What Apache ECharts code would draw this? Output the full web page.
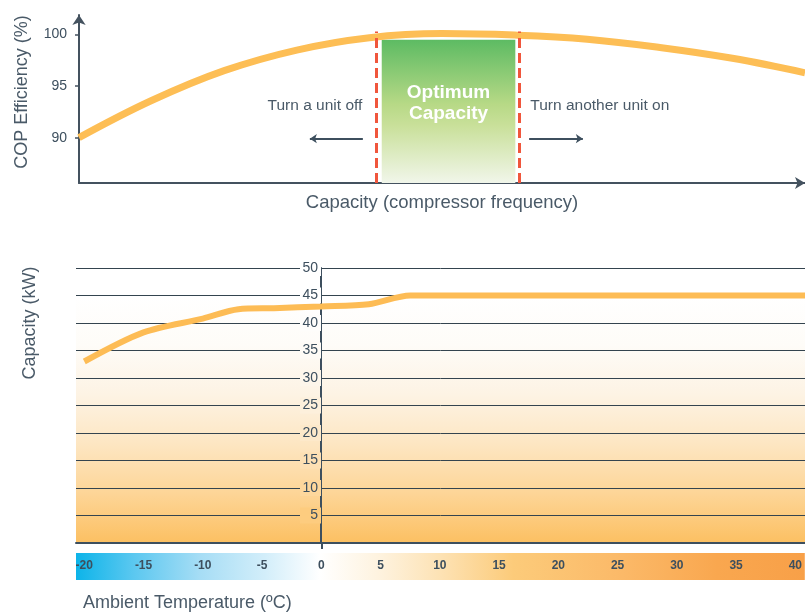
<!DOCTYPE html>
<html>
<head>
<meta charset="utf-8">
<title>COP Efficiency / Capacity</title>
<script src="https://cdn.jsdelivr.net/npm/echarts@6/dist/echarts.min.js"></script>
<style>
  html, body { margin: 0; padding: 0; background: #fff; }
  #main { width: 805px; height: 612px; }
</style>
</head>
<body>
<div id="main"></div>
<script>
// top chart: COP efficiency vs capacity (0-100 % of compressor frequency)
var copCapacity   = [0, 10, 20, 30, 40, 50, 60, 70, 80, 90, 100];
var copEfficiency = [90, 93.6, 96.5, 98.5, 99.7, 100.1, 99.95, 99.55, 98.75, 97.7, 96.3];
var copTicks = [90, 95, 100];
var switchPoints = [41, 60.7];      // dashed red lines
var optimumRange = [41.7, 60.1];    // green box
var optimumTop = 99.5;

// bottom chart: capacity (kW) vs ambient temperature
var ambientTemp = [-20, -15, -10, -7, -4, 0, 4, 7.5, 15, 25, 35, 40.8];
var capacityKW  = [33, 38.3, 40.8, 42.5, 42.7, 43, 43.4, 45, 45, 45, 45, 45];
var kwTicks   = [5, 10, 15, 20, 25, 30, 35, 40, 45, 50];
var tempTicks = [-20, -15, -10, -5, 0, 5, 10, 15, 20, 25, 30, 35, 40];
var tempMin = -20.7, tempMax = 40.8;

var ink = '#3d4f5e';
var nameInk = '#4a5a68';
var font = '"Liberation Sans", Arial, sans-serif';

// background of the lower chart (value -> colour)
var bgStops = [[0, '#FCC062'], [9, '#FDD597'], [18, '#FDE6C2'], [27, '#FDF3E4'], [36, '#FEFCF8'], [45, '#FFFFFF']];
function hex(c) { return [1, 3, 5].map(function (i) { return parseInt(c.substr(i, 2), 16); }); }
function bgAt(v) {
  if (v >= 45) return '#FFFFFF';
  for (var i = 0; i < bgStops.length - 1; i++) {
    var a = bgStops[i], b = bgStops[i + 1];
    if (v >= a[0] && v <= b[0]) {
      var t = (v - a[0]) / (b[0] - a[0]);
      var ca = hex(a[1]), cb = hex(b[1]);
      return 'rgb(' + ca.map(function (x, k) { return Math.round(x + (cb[k] - x) * t); }).join(',') + ')';
    }
  }
  return bgStops[0][1];
}
var kwRich = {};
kwTicks.forEach(function (v) {
  kwRich['k' + v] = { backgroundColor: bgAt(v), width: 17, align: 'right', padding: [1, 3, 1, 1], fontSize: 14, color: ink, fontFamily: font };
});

var myChart = echarts.init(document.getElementById('main'));

myChart.setOption({
  animation: false,
  textStyle: { fontFamily: font },
  title: {
    text: 'Ambient Temperature (ºC)',
    left: 78, top: 589,
    textStyle: { fontSize: 18, fontWeight: 'normal', color: nameInk, fontFamily: font }
  },
  graphic: [{
    type: 'text', x: 30, y: 323, rotation: Math.PI / 2,
    style: { text: 'Capacity (kW)', fontSize: 18, fill: nameInk, align: 'center', verticalAlign: 'middle', fontFamily: font }
  }],
  grid: [
    { left: 79, right: 0, top: 15, height: 168 },
    { left: 76, right: 0, top: 268, height: 275 },
    { left: 76, right: 0, top: 553, height: 27 }
  ],
  xAxis: [
    {
      gridIndex: 0, type: 'value', min: 0, max: 100,
      axisLine: { lineStyle: { color: '#44525f', width: 2 }, symbol: ['none', 'arrow'], symbolSize: [9, 10] },
      axisTick: { show: false }, axisLabel: { show: false }, splitLine: { show: false },
      name: 'Capacity (compressor frequency)', nameLocation: 'middle', nameGap: 10,
      nameTextStyle: { fontSize: 18.5, color: nameInk }
    },
    {
      gridIndex: 1, type: 'value', min: tempMin, max: tempMax, z: 2,
      axisLine: { onZero: false, lineStyle: { color: ink, width: 2 } },
      axisTick: { customValues: [0], length: 6, lineStyle: { color: ink, width: 2 } },
      axisLabel: { show: false }, splitLine: { show: false }
    },
    {
      gridIndex: 2, type: 'value', min: tempMin, max: tempMax, z: 10,
      axisLine: { show: false }, axisTick: { show: false }, splitLine: { show: false },
      axisLabel: { customValues: tempTicks, margin: -20, fontSize: 12, fontWeight: 'bold', color: ink }
    }
  ],
  yAxis: [
    {
      gridIndex: 0, type: 'value', min: 85.6, max: 101.9,
      axisLine: { lineStyle: { color: '#44525f', width: 2 }, symbol: ['none', 'arrow'], symbolSize: [10, 10] },
      axisTick: { customValues: copTicks, length: 4, lineStyle: { color: '#44525f', width: 1.5 } },
      axisLabel: { customValues: copTicks, fontSize: 14, color: ink, margin: 12 },
      splitLine: { show: false },
      name: 'COP Efficiency (%)', nameLocation: 'middle', nameGap: 48, nameRotate: 90,
      nameTextStyle: { fontSize: 18, color: nameInk, padding: [0, 0, 0, 14] }
    },
    {
      // y axis sits at 0 °C: shifted right from the grid's left edge
      gridIndex: 1, type: 'value', min: 0, max: 50, interval: 5, z: 2,
      position: 'left', offset: -245,
      axisLine: { onZero: false, lineStyle: { color: ink, width: 2 } },
      axisTick: { show: false },
      axisLabel: {
        showMinLabel: false, margin: 0,
        formatter: function (v) { return '{k' + v + '|' + v + '}'; },
        rich: kwRich
      },
      splitLine: { lineStyle: { color: '#34444f', width: 1 } }
    },
    { gridIndex: 2, type: 'value', min: 0, max: 1, show: false }
  ],
  series: [
    {
      type: 'line', xAxisIndex: 0, yAxisIndex: 0, z: 3,
      data: copCapacity.map(function (c, i) { return [c, copEfficiency[i]]; }),
      smooth: 0.4, symbol: 'none',
      lineStyle: { color: '#FDBE55', width: 7 },
      markArea: {
        silent: true,
        itemStyle: {
          color: {
            type: 'linear', x: 0, y: 0, x2: 0, y2: 1,
            colorStops: [
              { offset: 0, color: '#5DBB63' },
              { offset: 0.45, color: '#B7D986' },
              { offset: 0.6, color: '#C9E09A' },
              { offset: 1, color: '#F1F6EA' }
            ]
          }
        },
        label: {
          show: true, position: 'inside', offset: [0, -8],
          color: '#fff', fontSize: 19, fontWeight: 'bold', lineHeight: 21
        },
        data: [[
          { name: 'Optimum\nCapacity', coord: [optimumRange[0], 85.6] },
          { coord: [optimumRange[1], optimumTop] }
        ]]
      },
      markLine: {
        silent: true, symbol: 'none', label: { show: false },
        lineStyle: { color: '#F0563C', width: 3, type: [10, 5] },
        data: switchPoints.map(function (x) { return [{ coord: [x, 85.6] }, { coord: [x, 100.3] }]; })
      }
    },
    {
      type: 'line', xAxisIndex: 0, yAxisIndex: 0, data: [], z: 3,
      markPoint: {
        silent: true, symbol: 'rect', symbolSize: 1, itemStyle: { color: 'rgba(0,0,0,0)' },
        label: { show: true, fontSize: 15.5, color: nameInk, distance: 0 },
        data: [
          { name: 'off', coord: [39.1, 93.1], label: { position: 'left', formatter: 'Turn a unit off' } },
          { name: 'on', coord: [62.1, 93.1], label: { position: 'right', formatter: 'Turn another unit on' } }
        ]
      },
      markLine: {
        silent: true, label: { show: false }, symbolSize: 7,
        lineStyle: { color: ink, width: 2, type: 'solid' },
        data: [
          [{ coord: [39.1, 89.9], symbol: 'none' }, { coord: [31.8, 89.9], symbol: 'arrow' }],
          [{ coord: [62.0, 89.9], symbol: 'none' }, { coord: [69.4, 89.9], symbol: 'arrow' }]
        ]
      }
    },
    {
      // lower chart background band
      type: 'line', xAxisIndex: 1, yAxisIndex: 1, data: [], z: 0,
      markArea: {
        silent: true, z: 0,
        itemStyle: {
          color: {
            type: 'linear', x: 0, y: 0, x2: 0, y2: 1,
            colorStops: bgStops.slice().reverse().map(function (s) { return { offset: 1 - s[0] / 45, color: s[1] }; })
          }
        },
        data: [[{ coord: [tempMin, 0] }, { coord: [tempMax, 45] }]]
      }
    },
    {
      type: 'line', xAxisIndex: 1, yAxisIndex: 1, z: 3,
      data: ambientTemp.map(function (t, i) { return [t, capacityKW[i]]; }),
      smooth: 0.3, symbol: 'none',
      lineStyle: { color: '#FDBC55', width: 6 }
    },
    {
      // temperature colour bar
      type: 'line', xAxisIndex: 2, yAxisIndex: 2, data: [], z: 1,
      markArea: {
        silent: true,
        itemStyle: {
          color: {
            type: 'linear', x: 0, y: 0, x2: 1, y2: 0,
            colorStops: [
              { offset: 0, color: '#0DB4E9' },
              { offset: 0.08, color: '#5CC8F0' },
              { offset: 0.17, color: '#A6DDF5' },
              { offset: 0.26, color: '#D3EEFA' },
              { offset: 0.335, color: '#FFFFFF' },
              { offset: 0.42, color: '#FEF2DD' },
              { offset: 0.5, color: '#FDE2B4' },
              { offset: 0.6, color: '#FCCB7A' },
              { offset: 0.75, color: '#FBB968' },
              { offset: 0.88, color: '#F9A74F' },
              { offset: 1, color: '#F8A048' }
            ]
          }
        },
        data: [[{ coord: [tempMin, 0] }, { coord: [tempMax, 1] }]]
      }
    }
  ]
});
</script>
</body>
</html>
